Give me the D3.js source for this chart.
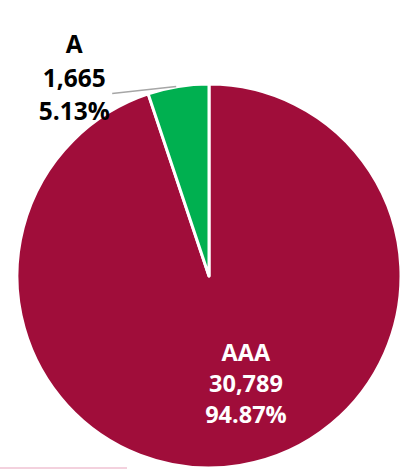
<!DOCTYPE html>
<html>
<head>
<meta charset="utf-8">
<script src="https://cdn.jsdelivr.net/npm/d3@7"></script>
<style>
  html, body { margin: 0; padding: 0; background: #fff; }
  svg { display: block; }
  text { font-family: "Open Sans", "Liberation Sans", sans-serif; font-weight: bold; }
</style>
</head>
<body>
<svg width="411" height="469"></svg>
<script>
var categories = ["AAA", "A"];
var values = [30789, 1665];
var colors = ["#A00D3A", "#00B050"];

var width = 411, height = 469;
var cx = 209, cy = 276, radius = 192;

var svg = d3.select("svg");
var g = svg.append("g").attr("transform", "translate(" + cx + "," + cy + ")");

var total = d3.sum(values);
var data = categories.map(function (c, i) {
  return { name: c, value: values[i], color: colors[i] };
});

var pie = d3.pie().sort(null).value(function (d) { return d.value; });
var arc = d3.arc().innerRadius(0).outerRadius(radius);
var arcs = pie(data);

g.selectAll(".slice")
  .data(arcs)
  .enter()
  .append("path")
  .attr("class", "slice")
  .attr("d", arc)
  .attr("fill", function (d) { return d.data.color; })
  .attr("stroke", "#fff")
  .attr("stroke-width", 3)
  .attr("stroke-linejoin", "round");

var fmt = d3.format(",");
var pct = function (v) { return (v / total * 100).toFixed(2) + "%"; };

// inside label for the big slice
var big = arcs[0];
var bigPos = d3.arc().innerRadius(0).outerRadius(radius * 1.1).centroid(big);
var bigText = g.append("text")
  .attr("text-anchor", "middle")
  .attr("fill", "#fff")
  .style("font-size", "23.5px")
  .attr("transform", "translate(" + (bigPos[0] + 20) + "," + (bigPos[1] - 19) + ")");
[big.data.name, fmt(big.data.value), pct(big.data.value)].forEach(function (t, i) {
  bigText.append("tspan").attr("x", 0).attr("y", i * 31).text(t);
});

// outside label for the small slice with a leader line
var small = arcs[1];
var edge = d3.arc().innerRadius(radius).outerRadius(radius).centroid(small);
var lineEnd = [edge[0] - 66, edge[1] + 7];
g.append("path")
  .attr("d", "M" + lineEnd[0] + "," + lineEnd[1] + "L" + (edge[0] - 2) + "," + edge[1])
  .attr("fill", "none")
  .attr("stroke", "#a6a6a6")
  .attr("stroke-width", 1.5);

var smallText = g.append("text")
  .attr("text-anchor", "middle")
  .attr("fill", "#000")
  .style("font-size", "24.5px")
  .attr("transform", "translate(" + (lineEnd[0] - 38) + "," + (lineEnd[1] - 40) + ")");
[small.data.name, fmt(small.data.value), pct(small.data.value)].forEach(function (t, i) {
  smallText.append("tspan").attr("x", 0).attr("y", i * 33.5).text(t);
});

// faint pink rule at the bottom left
svg.append("line")
  .attr("x1", 0).attr("x2", 127)
  .attr("y1", height - 1).attr("y2", height - 1)
  .attr("stroke", "#e8a3bc")
  .attr("stroke-width", 1);
</script>
</body>
</html>
